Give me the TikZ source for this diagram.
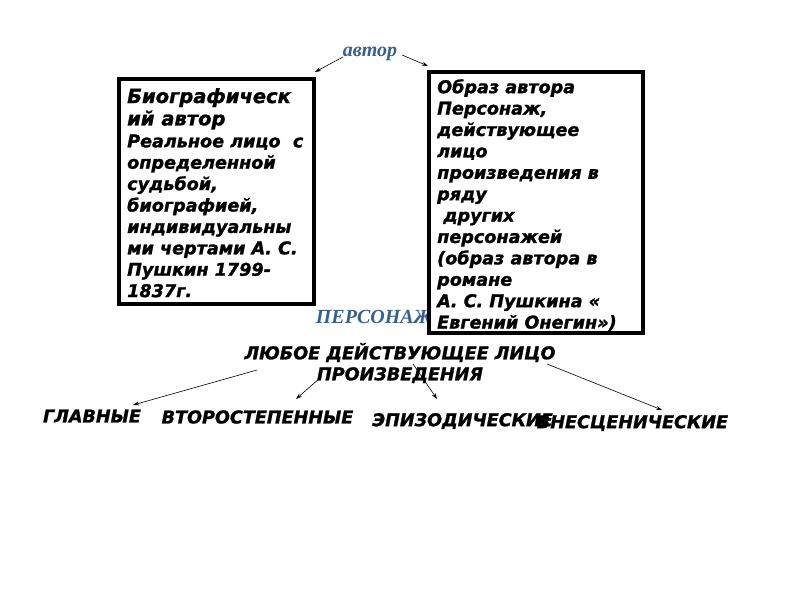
\documentclass[tikz,border=0pt]{standalone}
\usepackage{fontspec}
\newfontfamily\djv[BoldItalicFeatures={FakeBold=1.3}]{DejaVu Sans}
\newfontfamily\lser{Liberation Serif}
\definecolor{hdblue}{HTML}{366092}
\usetikzlibrary{arrows.meta}
\tikzset{
  boxframe/.style={draw=black, line width=4.5pt, fill=white, rectangle, inner sep=0pt},
  boxtext/.style={anchor=north west, inner sep=0pt, align=left, font=\djv\bfseries\itshape\fontsize{17.6}{21.4}\selectfont},
  bluelabel/.style={inner sep=0pt, text=hdblue, font=\lser\bfseries\itshape\fontsize{20}{22}\selectfont},
  kind/.style={inner sep=0pt, font=\djv\bfseries\itshape\fontsize{17.6}{21}\selectfont},
  thinarrow/.style={-{Stealth[length=6pt,width=4pt]}, line width=0.6pt}
}
\begin{document}
\begin{tikzpicture}[x=1pt,y=-1pt]
\useasboundingbox[fill=white] (0,0) rectangle (800,600);
% top label
\node[bluelabel] (author) at (370,54) {автор};
% persona label (drawn before the right box so the box covers its end)
\node[bluelabel] (persona) at (374,317) {ПЕРСОНАЖ};
% left box
\node[boxframe, minimum width=195pt, minimum height=225pt] (lbox) at (216.5,191.5) {};
\node[boxtext] (ltext) at (127,88) {{\fontsize{19.5}{22}\selectfont Биографическ}\\[1pt]{\fontsize{19.5}{22}\selectfont ий автор}\\[0.5pt]Реальное лицо\ \ с\\определенной\\судьбой,\\биографией,\\индивидуальны\\ми чертами А. С.\\Пушкин 1799-\\1837г.};
% right box
\node[boxframe, minimum width=214pt, minimum height=261pt] (rbox) at (536,202.5) {};
\node[boxtext] (rtext) at (437,79) {Образ автора\\Персонаж,\\действующее\\лицо\\произведения в\\ряду\\\ других\\персонажей\\(образ автора в\\романе\\А. С. Пушкина «\\Евгений Онегин»)};
% central text
\node[kind, align=center, font=\djv\bfseries\itshape\fontsize{17.6}{21}\selectfont] (any) at (400,363) {ЛЮБОЕ ДЕЙСТВУЮЩЕЕ ЛИЦО\\ПРОИЗВЕДЕНИЯ};
% kinds
\node[kind] (main) at (92,416) {ГЛАВНЫЕ};
\node[kind] (second) at (257.5,417) {ВТОРОСТЕПЕННЫЕ};
\node[kind] (episod) at (462.5,421) {ЭПИЗОДИЧЕСКИЕ};
\node[kind] (offstage) at (632.5,423) {ВНЕСЦЕНИЧЕСКИЕ};
% arrow end points
\coordinate (a1s) at (343,57);
\coordinate (a1e) at (315,72);
\coordinate (a2s) at (402,55);
\coordinate (a2e) at (428,66);
\coordinate (b1s) at (257,370);
\coordinate (b1e) at (133,405);
\coordinate (b2s) at (320,378);
\coordinate (b2e) at (296,399);
\coordinate (b3s) at (413,364);
\coordinate (b3e) at (437,399);
\coordinate (b4s) at (547,364);
\coordinate (b4e) at (662,410);
\draw[thinarrow] (a1s) -- (a1e);
\draw[thinarrow] (a2s) -- (a2e);
\draw[thinarrow] (b1s) -- (b1e);
\draw[thinarrow] (b2s) -- (b2e);
\draw[thinarrow] (b3s) -- (b3e);
\draw[thinarrow] (b4s) -- (b4e);
\end{tikzpicture}
\end{document}
